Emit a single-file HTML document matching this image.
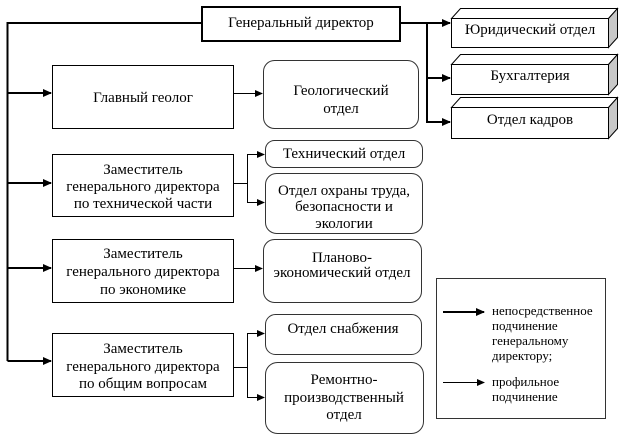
<!DOCTYPE html>
<html><head><meta charset="utf-8"><style>
html,body{margin:0;padding:0;background:#fff;}
svg{display:block;}
svg text{font-family:"Liberation Serif","Times New Roman",Times,"DejaVu Serif",serif;fill:#000;}
.t{font-size:15px;}
.l{font-size:13px;}
</style></head><body>
<svg width="624" height="439" viewBox="0 0 624 439" xmlns="http://www.w3.org/2000/svg" font-family="Liberation Serif, Times New Roman, serif">
<defs>
<marker id="ah" markerWidth="9" markerHeight="8" refX="8" refY="4" orient="auto" markerUnits="userSpaceOnUse"><path d="M0,0 L9,4 L0,8 z" fill="#000"/></marker>
<marker id="as" markerWidth="8" markerHeight="7" refX="7" refY="3.5" orient="auto" markerUnits="userSpaceOnUse"><path d="M0,0 L8,3.5 L0,7 z" fill="#000"/></marker>
<clipPath id="c1"><rect x="265" y="174" width="158" height="54"/></clipPath>
</defs>

<!-- General director -->
<rect x="202" y="7" width="198" height="34" fill="#fff" stroke="#000" stroke-width="2"/>
<text class="t" font-family="Liberation Serif, Times New Roman, serif" x="301" y="27" text-anchor="middle">Генеральный директор</text>

<!-- thick left trunk -->
<polyline points="202,23 7.5,23 7.5,361" fill="none" stroke="#000" stroke-width="2"/>
<line x1="7" y1="93" x2="51" y2="93" stroke="#000" stroke-width="2" marker-end="url(#ah)"/>
<line x1="7" y1="183" x2="51" y2="183" stroke="#000" stroke-width="2" marker-end="url(#ah)"/>
<line x1="7" y1="268" x2="51" y2="268" stroke="#000" stroke-width="2" marker-end="url(#ah)"/>
<polyline points="7.5,361 51,361" fill="none" stroke="#000" stroke-width="2" marker-end="url(#ah)"/>

<!-- right thick -->
<line x1="400" y1="23" x2="450" y2="23" stroke="#000" stroke-width="2" marker-end="url(#ah)"/>
<line x1="427" y1="23" x2="427" y2="123" stroke="#000" stroke-width="2"/>
<line x1="426" y1="78" x2="450" y2="78" stroke="#000" stroke-width="2" marker-end="url(#ah)"/>
<line x1="426" y1="122" x2="450" y2="122" stroke="#000" stroke-width="2" marker-end="url(#ah)"/>

<!-- 3D boxes -->
<g stroke="#000" stroke-width="1">
<polygon points="451.5,18.5 460.5,8.5 617.5,8.5 608.5,18.5" fill="#fff"/>
<polygon points="608.5,18.5 617.5,8.5 617.5,37.5 608.5,47.5" fill="#c8c8c8"/>
<rect x="451.5" y="18.5" width="157" height="29" fill="#fff"/>
<polygon points="451.5,64.5 460.5,54.5 617.5,54.5 608.5,64.5" fill="#fff"/>
<polygon points="608.5,64.5 617.5,54.5 617.5,84.5 608.5,94.5" fill="#c8c8c8"/>
<rect x="451.5" y="64.5" width="157" height="30" fill="#fff"/>
<polygon points="451.5,107.5 460.5,97.5 617.5,97.5 608.5,107.5" fill="#fff"/>
<polygon points="608.5,107.5 617.5,97.5 617.5,128.5 608.5,138.5" fill="#c8c8c8"/>
<rect x="451.5" y="107.5" width="157" height="31" fill="#fff"/>
</g>
<g font-family="Liberation Serif, Times New Roman, serif">
<text class="t" x="530" y="34" text-anchor="middle">Юридический отдел</text>
<text class="t" x="530" y="80" text-anchor="middle">Бухгалтерия</text>
<text class="t" x="530" y="124" text-anchor="middle">Отдел кадров</text>
</g>

<!-- Главный геолог -->
<rect x="52.5" y="65.5" width="181" height="63" fill="#fff" stroke="#000"/>
<line x1="234" y1="93.5" x2="262" y2="93.5" stroke="#000" stroke-width="1" marker-end="url(#as)"/>
<rect x="263.5" y="60.5" width="155" height="68" rx="11" fill="#fff" stroke="#333"/>

<!-- Tech deputy -->
<rect x="52.5" y="154.5" width="181" height="62" fill="#fff" stroke="#000"/>
<line x1="234" y1="183.5" x2="247.5" y2="183.5" stroke="#000"/>
<line x1="247.5" y1="154" x2="247.5" y2="203" stroke="#000"/>
<line x1="247" y1="154.5" x2="264" y2="154.5" stroke="#000" marker-end="url(#as)"/>
<line x1="247" y1="202.5" x2="264" y2="202.5" stroke="#000" marker-end="url(#as)"/>
<rect x="265.5" y="140.5" width="157" height="27" rx="9" fill="#fff" stroke="#333"/>
<rect x="265.5" y="173.5" width="157" height="60" rx="11" fill="#fff" stroke="#333"/>

<!-- Econ deputy -->
<rect x="52.5" y="239.5" width="181" height="63" fill="#fff" stroke="#000"/>
<line x1="234" y1="268.5" x2="262" y2="268.5" stroke="#000" marker-end="url(#as)"/>
<rect x="263.5" y="239.5" width="158" height="63" rx="11" fill="#fff" stroke="#333"/>

<!-- General questions deputy -->
<rect x="52.5" y="333.5" width="181" height="63" fill="#fff" stroke="#000"/>
<line x1="234" y1="367.5" x2="247.5" y2="367.5" stroke="#000"/>
<line x1="247.5" y1="333" x2="247.5" y2="398" stroke="#000"/>
<line x1="247" y1="333.5" x2="264" y2="333.5" stroke="#000" marker-end="url(#as)"/>
<line x1="247" y1="397.5" x2="264" y2="397.5" stroke="#000" marker-end="url(#as)"/>
<rect x="265.5" y="314.5" width="156" height="40" rx="10" fill="#fff" stroke="#333"/>
<rect x="265.5" y="362.5" width="158" height="71" rx="12" fill="#fff" stroke="#333"/>

<!-- Legend -->
<rect x="436.5" y="278.5" width="169" height="140" fill="#fff" stroke="#333"/>
<line x1="443" y1="312" x2="484" y2="312" stroke="#000" stroke-width="2" marker-end="url(#ah)"/>
<line x1="443" y1="382.5" x2="484" y2="382.5" stroke="#000" stroke-width="1" marker-end="url(#as)"/>

<g font-family="Liberation Serif, Times New Roman, serif">
<text class="t" x="143" y="102" text-anchor="middle">Главный геолог</text>
<text class="t" x="341" y="95" text-anchor="middle">Геологический</text>
<text class="t" x="341" y="113" text-anchor="middle">отдел</text>

<text class="t" x="143" y="174" text-anchor="middle">Заместитель</text>
<text class="t" x="143" y="191" text-anchor="middle">генерального директора</text>
<text class="t" x="143" y="208" text-anchor="middle">по технической части</text>
<text class="t" x="344" y="158" text-anchor="middle">Технический отдел</text>
<g clip-path="url(#c1)">
<text class="t" x="344" y="195" text-anchor="middle">Отдел охраны труда,</text>
<text class="t" x="344" y="211" text-anchor="middle">безопасности и</text>
<text class="t" x="344" y="228" text-anchor="middle">экологии</text>
</g>

<text class="t" x="143" y="258" text-anchor="middle">Заместитель</text>
<text class="t" x="143" y="276" text-anchor="middle">генерального директора</text>
<text class="t" x="143" y="294" text-anchor="middle">по экономике</text>
<text class="t" x="342" y="262" text-anchor="middle">Планово-</text>
<text class="t" x="342" y="277" text-anchor="middle">экономический отдел</text>

<text class="t" x="143" y="353" text-anchor="middle">Заместитель</text>
<text class="t" x="143" y="371" text-anchor="middle">генерального директора</text>
<text class="t" x="143" y="388" text-anchor="middle">по общим вопросам</text>
<text class="t" x="343" y="333" text-anchor="middle">Отдел снабжения</text>
<text class="t" x="344" y="384" text-anchor="middle">Ремонтно-</text>
<text class="t" x="344" y="402" text-anchor="middle">производственный</text>
<text class="t" x="344" y="419" text-anchor="middle">отдел</text>

<text class="l" x="492" y="315">непосредственное</text>
<text class="l" x="492" y="330">подчинение</text>
<text class="l" x="492" y="345">генеральному</text>
<text class="l" x="492" y="360">директору;</text>
<text class="l" x="492" y="386">профильное</text>
<text class="l" x="492" y="401">подчинение</text>
</g>
</svg>
</body></html>
